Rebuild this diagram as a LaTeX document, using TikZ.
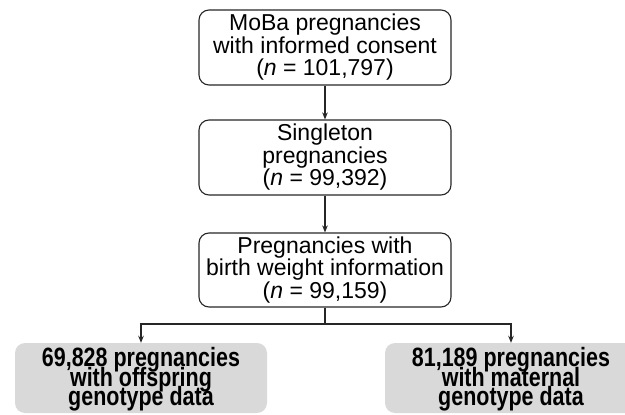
\documentclass[tikz,border=0pt]{standalone}
\usepackage{fontspec}
\setmainfont{Liberation Sans}
\newfontfamily\narrowbold[FakeStretch=0.81]{Liberation Sans Bold}
\usetikzlibrary{arrows.meta}
\setlength{\lineskiplimit}{-100pt}
\begin{document}
\begin{tikzpicture}[x=1pt,y=-1pt,
  topbox/.style={draw=black!85, line width=1.1pt, rounded corners=10pt,
    minimum width=252pt, minimum height=75pt, inner sep=0pt, align=center,
    font=\fontsize{23}{22.5}\selectfont},
  botbox/.style={fill=black!15, draw=none, rounded corners=10pt,
    minimum width=252pt, minimum height=70pt, inner sep=0pt},
  bottext/.style={inner sep=0pt, align=center,
    font=\fontsize{26.5}{19.5}\selectfont\narrowbold},
  conn/.style={draw=black!85, line width=1.3pt},
  arr/.style={conn, -{Stealth[length=7pt,width=5.5pt]}}]
\useasboundingbox (0,0) rectangle (625,415);
\clip (0,0) rectangle (625,415);
\node[topbox] (b1) at (325,47.5) {MoBa pregnancies\\with informed consent\\(\textit{n} = 101,797)};
\node[topbox] (b2) at (325,157.5) {Singleton\\pregnancies\\(\textit{n} = 99,392)};
\node[topbox, minimum height=74pt] (b3) at (325,270) {Pregnancies with\\birth weight information\\(\textit{n} = 99,159)};
\node[botbox] (b4) at (141,378) {};
\node[botbox] (b5) at (511,378) {};
\node[bottext] (t4) at (141,379.5) {69,828 pregnancies\\with offspring\\genotype data};
\node[bottext] (t5) at (511,379.5) {81,189 pregnancies\\with maternal\\genotype data};
\coordinate (j) at (325,324);
\draw[arr] (b1.south) -- (b2.north);
\draw[arr] (b2.south) -- (b3.north);
\draw[conn] (b3.south) -- (j);
\draw[arr] (j) -| (b4.north);
\draw[arr] (j) -| (b5.north);
\end{tikzpicture}
\end{document}
